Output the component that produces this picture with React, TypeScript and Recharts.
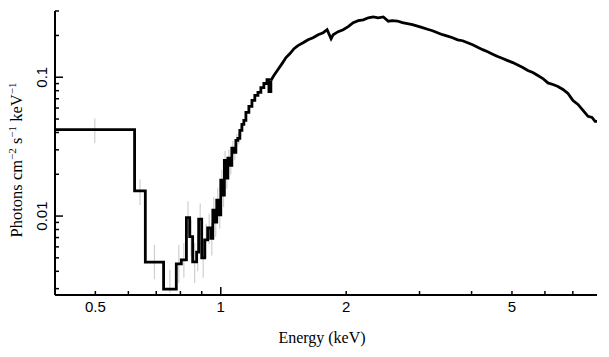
import React from 'react';
import { ComposedChart, Line, Scatter, ErrorBar, XAxis, YAxis, Label } from 'recharts';

// bin left edges (keV), last entry closes the final bin
const binEdge = [
  0.40, 0.621, 0.659, 0.729, 0.782, 0.804, 0.827, 0.842, 0.856, 0.875,
  0.885, 0.900, 0.915, 0.930, 0.946, 0.957, 0.967, 0.978, 0.989, 1.000,
  1.011, 1.020, 1.028, 1.040, 1.051, 1.063, 1.075, 1.087, 1.099, 1.111,
  1.124, 1.136, 1.149, 1.168, 1.188, 1.207, 1.228, 1.248, 1.269, 1.291,
  1.305, 1.319, 1.341, 1.372, 1.403, 1.434, 1.466, 1.499, 1.532, 1.576,
  1.620, 1.665, 1.713, 1.761, 1.800, 1.840, 1.861, 1.913, 1.967, 2.022,
  2.079, 2.138, 2.198, 2.260, 2.323, 2.388, 2.456, 2.525, 2.581, 2.654,
  2.729, 2.805, 2.884, 2.966, 3.049, 3.135, 3.223, 3.313, 3.407, 3.502,
  3.601, 3.702, 3.806, 3.913, 4.023, 4.136, 4.252, 4.372, 4.494, 4.620,
  4.751, 4.884, 5.022, 5.163, 5.309, 5.458, 5.611, 5.770, 5.932, 6.099,
  6.271, 6.447, 6.629, 6.815, 7.006, 7.203, 7.405, 7.613, 7.784, 7.915,
  8.0,
];

// photons cm^-2 s^-1 keV^-1 per bin
const flux = [
  0.0419, 0.0152, 0.00466, 0.00298, 0.00452, 0.00483, 0.00975, 0.0071, 0.00468, 0.0055,
  0.0095, 0.0050, 0.00673, 0.0082, 0.0069, 0.01104, 0.00906, 0.01303, 0.0102, 0.01813,
  0.01415, 0.0252, 0.01875, 0.0261, 0.0232, 0.0308, 0.0288, 0.0351, 0.0363, 0.0414,
  0.0457, 0.0489, 0.0558, 0.0616, 0.0681, 0.074, 0.0777, 0.0843, 0.0901, 0.0962,
  0.0789, 0.0947, 0.1028, 0.1136, 0.1254, 0.1385, 0.148, 0.1606, 0.169, 0.177,
  0.186, 0.1925, 0.2025, 0.2093, 0.220, 0.1895, 0.2025, 0.213, 0.220, 0.2315,
  0.2472, 0.2554, 0.259, 0.268, 0.272, 0.268, 0.272, 0.2533, 0.2554, 0.254,
  0.2472, 0.2432, 0.2392, 0.2335, 0.2275, 0.2217, 0.2162, 0.2093, 0.2025, 0.1976,
  0.1925, 0.186, 0.1832, 0.177, 0.1713, 0.1646, 0.158, 0.1528, 0.1467, 0.141,
  0.1363, 0.1318, 0.1275, 0.1224, 0.1174, 0.1117, 0.1081, 0.1028, 0.0979, 0.091,
  0.0886, 0.0858, 0.0816, 0.0764, 0.068, 0.0637, 0.0577, 0.0523, 0.0514, 0.0481,
  0.0481,
];

// wide bins are drawn as a histogram, the narrow ones above this index as a curve
const coarseBins = 41;

// visible error bars (first bins only)
const errLow = [
  0.0334, 0.0120, 0.0035, 0.0028, 0.0033, 0.0036, 0.0073, 0.0052, 0.0033, 0.0040,
  0.0072, 0.0036, 0.0050, 0.0063, 0.0052, 0.0087, 0.0071, 0.0104, 0.0081, 0.0150,
  0.0116, 0.0213, 0.0157, 0.0225, 0.0199, 0.0272, 0.0254, 0.0315, 0.0328, 0.0378,
];
const errHigh = [
  0.0505, 0.0184, 0.0062, 0.0041, 0.0062, 0.0064, 0.0128, 0.0094, 0.0064, 0.0073,
  0.0123, 0.0067, 0.0088, 0.0104, 0.0089, 0.0137, 0.0113, 0.0160, 0.0126, 0.0216,
  0.0170, 0.0294, 0.0221, 0.0300, 0.0268, 0.0347, 0.0325, 0.0390, 0.0400, 0.0452,
];

const xTicks = [0.5, 0.6, 0.7, 0.8, 0.9, 1, 2, 3, 4, 5, 6, 7];
const xTickLabels = ['0.5', '', '', '', '', '1', '2', '', '', '5', '', ''];
const yTicks = [0.003, 0.004, 0.005, 0.006, 0.007, 0.008, 0.009, 0.01, 0.02, 0.03, 0.04, 0.05, 0.06, 0.07, 0.08, 0.09, 0.1, 0.2, 0.3];
const yTickLabels = ['', '', '', '', '', '', '', '0.01', '', '', '', '', '', '', '', '', '0.1', '', ''];
const majorTicks = [0.01, 0.1, 1];

const spectrum = binEdge.map((e, i) => ({ x: e, y: flux[i] }));
const histPart = spectrum.slice(0, coarseBins + 1);
const curvePart = spectrum.slice(coarseBins);
const errors = errLow.map((lo, i) => ({
  x: Math.sqrt(binEdge[i] * binEdge[i + 1]),
  y: flux[i],
  err: [flux[i] - lo, errHigh[i] - flux[i]],
}));

const SANS = '"Liberation Sans", Arial, Helvetica, sans-serif';
const SERIF = '"Liberation Serif", "Times New Roman", serif';

const tickLen = (v: number) => (majorTicks.some((m) => Math.abs(m - v) < 1e-9) ? 8 : 4);

const BottomTick = (props: any) => {
  const { x, y, payload } = props;
  const v = payload.value;
  const label = xTickLabels[xTicks.indexOf(v)];
  return (
    <g>
      <line x1={x} x2={x} y1={y} y2={y - tickLen(v)} stroke="#000" strokeWidth={1.5} />
      {label ? (
        <text x={x} y={y + 17} textAnchor="middle" fontFamily={SANS} fontSize={15} fill="#000">
          {label}
        </text>
      ) : null}
    </g>
  );
};

const TopTick = (props: any) => {
  const { x, y, payload } = props;
  return <line x1={x} x2={x} y1={y} y2={y + tickLen(payload.value)} stroke="#000" strokeWidth={1.5} />;
};

const LeftTick = (props: any) => {
  const { x, y, payload } = props;
  const v = payload.value;
  const label = yTickLabels[yTicks.indexOf(v)];
  return (
    <g>
      <line x1={x} x2={x + tickLen(v)} y1={y} y2={y} stroke="#000" strokeWidth={1.5} />
      {label ? (
        <text
          x={x - 8}
          y={y}
          transform={`rotate(-90, ${x - 8}, ${y})`}
          textAnchor="middle"
          fontFamily={SANS}
          fontSize={15}
          fill="#000"
        >
          {label}
        </text>
      ) : null}
    </g>
  );
};

const RightTick = (props: any) => {
  const { x, y, payload } = props;
  return <line x1={x} x2={x - tickLen(payload.value)} y1={y} y2={y} stroke="#000" strokeWidth={1.5} />;
};

const YTitle = () => (
  <text
    x={22}
    y={160}
    transform="rotate(-90, 22, 160)"
    textAnchor="middle"
    fontFamily={SERIF}
    fontSize={16.5}
    fill="#000"
  >
    Photons cm
    <tspan fontSize={11} dy={-6}>−2</tspan>
    <tspan dy={6}> s</tspan>
    <tspan fontSize={11} dy={-6}>−1</tspan>
    <tspan dy={6}> keV</tspan>
    <tspan fontSize={11} dy={-6}>−1</tspan>
  </text>
);

const XTitle = () => (
  <text x={322} y={343} textAnchor="middle" fontFamily={SERIF} fontSize={16} fill="#000">
    Energy (keV)
  </text>
);

const axisLine = { stroke: '#000', strokeWidth: 2 };

const SpectrumChart: React.FC = () => (
  <div style={{ position: 'absolute', left: 0, top: 0, width: 609, height: 357, background: '#fff' }}>
    <ComposedChart width={609} height={357} margin={{ top: 11, right: 12, bottom: 0, left: 0 }}>
      <XAxis
        xAxisId="bottom"
        dataKey="x"
        type="number"
        scale="log"
        domain={[0.4, 8]}
        allowDataOverflow
        ticks={xTicks}
        interval={0}
        tick={<BottomTick />}
        tickLine={false}
        tickSize={0}
        tickMargin={0}
        axisLine={axisLine}
        height={62}
      >
        <Label content={<XTitle />} />
      </XAxis>
      <XAxis
        xAxisId="top"
        orientation="top"
        dataKey="x"
        type="number"
        scale="log"
        domain={[0.4, 8]}
        allowDataOverflow
        ticks={xTicks}
        interval={0}
        tick={<TopTick />}
        tickLine={false}
        tickSize={0}
        tickMargin={0}
        axisLine={axisLine}
        height={0}
      />
      <YAxis
        yAxisId="left"
        dataKey="y"
        type="number"
        scale="log"
        domain={[0.0027, 0.3]}
        allowDataOverflow
        ticks={yTicks}
        interval={0}
        tick={<LeftTick />}
        tickLine={false}
        tickSize={0}
        tickMargin={0}
        axisLine={axisLine}
        width={55}
      >
        <Label content={<YTitle />} />
      </YAxis>
      <YAxis
        yAxisId="right"
        orientation="right"
        dataKey="y"
        type="number"
        scale="log"
        domain={[0.0027, 0.3]}
        allowDataOverflow
        ticks={yTicks}
        interval={0}
        tick={<RightTick />}
        tickLine={false}
        tickSize={0}
        tickMargin={0}
        axisLine={axisLine}
        width={0}
      />
      <Scatter
        data={errors}
        xAxisId="bottom"
        yAxisId="left"
        dataKey="y"
        shape={() => <g />}
        isAnimationActive={false}
      >
        <ErrorBar dataKey="err" direction="y" width={0} stroke="#cfcfcf" strokeWidth={1.2} />
      </Scatter>
      <Line
        data={histPart}
        xAxisId="bottom"
        yAxisId="left"
        dataKey="y"
        type="stepAfter"
        stroke="#000"
        strokeWidth={2.8}
        dot={false}
        isAnimationActive={false}
      />
      <Line
        data={curvePart}
        xAxisId="bottom"
        yAxisId="left"
        dataKey="y"
        type="linear"
        stroke="#000"
        strokeWidth={2.8}
        dot={false}
        isAnimationActive={false}
      />
    </ComposedChart>
  </div>
);

export default function App() {
  return <SpectrumChart />;
}
